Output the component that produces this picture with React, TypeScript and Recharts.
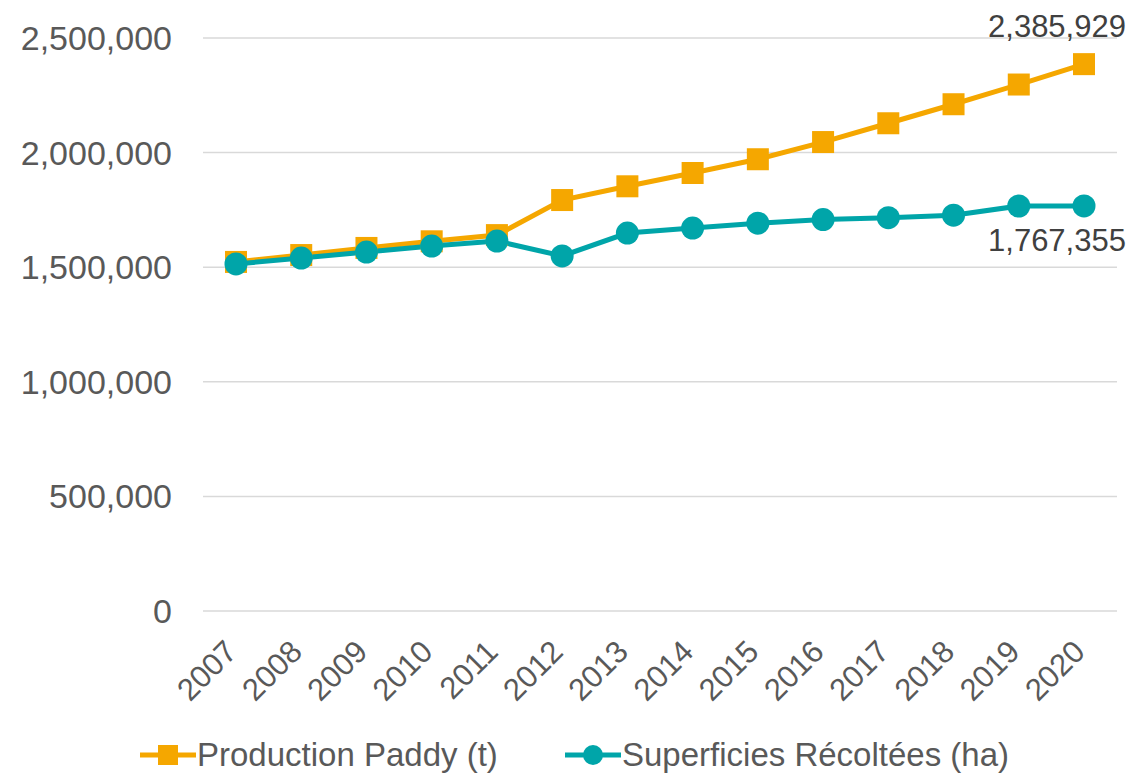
import React from "react";
import {
  CartesianGrid,
  Legend,
  LabelList,
  Line,
  LineChart,
  XAxis,
  YAxis,
} from "recharts";

const years = ["2007", "2008", "2009", "2010", "2011", "2012", "2013", "2014", "2015", "2016", "2017", "2018", "2019", "2020"];
const production = [1523000, 1553000, 1584000, 1613000, 1640000, 1793000, 1853000, 1911000, 1971000, 2046000, 2128000, 2211000, 2297000, 2385929];
const superficies = [1514000, 1540000, 1566000, 1592000, 1614000, 1549000, 1649000, 1671000, 1692000, 1708000, 1716000, 1727000, 1767000, 1767355];
const yTicks = [0, 500000, 1000000, 1500000, 2000000, 2500000];

const ORANGE = "#F5A700";
const TEAL = "#00A5A9";
const TEXT = "#595959";
const FONT = "'Liberation Sans', Arial, sans-serif";

const data = years.map((year, i) => ({
  year,
  production: production[i],
  superficies: superficies[i],
}));

const fmt = (v: number) => v.toLocaleString("en-US");

function SquareDot(props: any) {
  const { cx, cy, index } = props;
  return <rect key={`sq-${index}`} x={cx - 11} y={cy - 11} width={22} height={22} fill={ORANGE} />;
}

function CircleDot(props: any) {
  const { cx, cy, index } = props;
  return <circle key={`ci-${index}`} cx={cx} cy={cy} r={11.5} fill={TEAL} />;
}

function YearTick(props: any) {
  const { x, y, payload } = props;
  return (
    <g transform={`translate(${x - 3},${y + 29})`}>
      <text transform="rotate(-45)" textAnchor="end" dy={8} fill={TEXT} fontSize={31} fontFamily={FONT}>
        {payload.value}
      </text>
    </g>
  );
}

function lastLabel(dy: number) {
  return (props: any) => {
    const { x, y, value, index } = props;
    if (index !== years.length - 1) return null;
    return (
      <text x={x - 27} y={y + dy} textAnchor="middle" fill="#404040" fontSize={31} fontFamily={FONT}>
        {fmt(value)}
      </text>
    );
  };
}

function LegendContent() {
  const items = [
    { label: "Production Paddy (t)", color: ORANGE, shape: "square", x: 140 },
    { label: "Superficies Récoltées (ha)", color: TEAL, shape: "circle", x: 565 },
  ];
  return (
    <svg width={1130} height={50} style={{ display: "block" }}>
      {items.map((it) => (
        <g key={it.label}>
          <line x1={it.x} x2={it.x + 56} y1={24} y2={24} stroke={it.color} strokeWidth={5} />
          {it.shape === "square" ? (
            <rect x={it.x + 18} y={14} width={20} height={20} fill={it.color} />
          ) : (
            <circle cx={it.x + 28} cy={24} r={10} fill={it.color} />
          )}
          <text x={it.x + 57} y={35} fill={TEXT} fontSize={33} fontFamily={FONT}>
            {it.label}
          </text>
        </g>
      ))}
    </svg>
  );
}

export default function App() {
  return (
    <div style={{ position: "absolute", left: 0, top: 0, width: 1130, height: 779, background: "#fff" }}>
      <LineChart
        width={1130}
        height={779}
        data={data}
        margin={{ top: 38, right: 13, bottom: 0, left: 0 }}
      >
        <CartesianGrid stroke="#D9D9D9" strokeWidth={1.5} vertical={false} />
        <XAxis
          dataKey="year"
          axisLine={false}
          tickLine={false}
          interval={0}
          height={120}
          padding={{ left: 33, right: 33 }}
          tick={<YearTick />}
        />
        <YAxis
          domain={[0, 2500000]}
          ticks={yTicks}
          width={203}
          axisLine={false}
          tickLine={false}
          tickSize={0}
          tickMargin={31}
          tickFormatter={fmt}
          tick={{ fill: TEXT, fontSize: 34, fontFamily: FONT }}
        />
        <Legend verticalAlign="bottom" height={48} content={<LegendContent />} />
        <Line
          dataKey="production"
          stroke={ORANGE}
          strokeWidth={5}
          dot={<SquareDot />}
          activeDot={false}
          isAnimationActive={false}
        >
          <LabelList dataKey="production" content={lastLabel(-27)} />
        </Line>
        <Line
          dataKey="superficies"
          stroke={TEAL}
          strokeWidth={5}
          dot={<CircleDot />}
          activeDot={false}
          isAnimationActive={false}
        >
          <LabelList dataKey="superficies" content={lastLabel(45)} />
        </Line>
      </LineChart>
    </div>
  );
}
